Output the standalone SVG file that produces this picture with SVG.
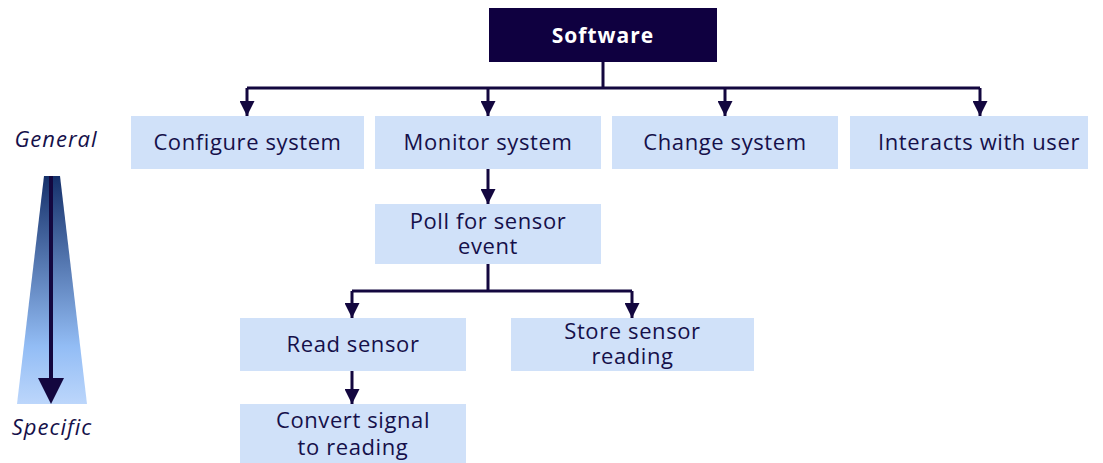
<svg xmlns="http://www.w3.org/2000/svg" width="1103" height="463" viewBox="0 0 1103 463">
<style>
.box{fill:#d0e1f9}
.t{font-family:"Open Sans","Liberation Sans",sans-serif;font-size:22px;letter-spacing:0.6px;fill:#15104a;text-anchor:middle}
.lbl{font-family:"Open Sans","Liberation Sans",sans-serif;font-size:22px;letter-spacing:1px;font-style:italic;fill:#15104a;text-anchor:middle}
.c{stroke:#13073f;stroke-width:3;fill:none}
</style>
<defs>
<marker id="ah" viewBox="0 0 10 10" refX="10" refY="5" markerWidth="5" markerHeight="5" markerUnits="strokeWidth" orient="auto">
<path d="M0,0 L10,5 L0,10 Z" fill="#13073f"/>
</marker>
<linearGradient id="g" x1="0" y1="0" x2="0" y2="1">
<stop offset="0" stop-color="#15306a"/>
<stop offset="0.75" stop-color="#93bdf5"/>
<stop offset="1" stop-color="#bcd6fb"/>
</linearGradient>
</defs>
<g id="scale">
<text class="lbl" x="56" y="147">General</text>
<polygon points="44,176 60,176 87,404 17,404" fill="url(#g)"/>
<line x1="51" y1="176" x2="51" y2="380" stroke="#13073f" stroke-width="4"/>
<polygon points="38,378 64,378 51,404" fill="#13073f"/>
<text class="lbl" x="52" y="435">Specific</text>
</g>
<g id="connectors">
<path class="c" d="M603,62 V88"/>
<path class="c" d="M247,88 H980"/>
<path class="c" d="M247,88 V116" marker-end="url(#ah)"/>
<path class="c" d="M488,88 V116" marker-end="url(#ah)"/>
<path class="c" d="M725,88 V116" marker-end="url(#ah)"/>
<path class="c" d="M980,88 V116" marker-end="url(#ah)"/>
<path class="c" d="M488,169 V204" marker-end="url(#ah)"/>
<path class="c" d="M488,264 V291"/>
<path class="c" d="M352,291 H632"/>
<path class="c" d="M352,291 V318" marker-end="url(#ah)"/>
<path class="c" d="M632,291 V318" marker-end="url(#ah)"/>
<path class="c" d="M352,371 V404" marker-end="url(#ah)"/>
</g>
<g id="software">
<rect x="489" y="8" width="228" height="54" fill="#0f0040"/>
<text x="603" y="43" font-family="'Open Sans','Liberation Sans',sans-serif" font-size="21" letter-spacing="1" font-weight="bold" fill="#ffffff" text-anchor="middle">Software</text>
</g>
<g id="configure">
<rect class="box" x="131" y="116" width="233" height="53"/>
<text class="t" x="247.5" y="150">Configure system</text>
</g>
<g id="monitor">
<rect class="box" x="375" y="116" width="226" height="53"/>
<text class="t" x="488" y="150">Monitor system</text>
</g>
<g id="change">
<rect class="box" x="612" y="116" width="226" height="53"/>
<text class="t" x="725" y="150">Change system</text>
</g>
<g id="interacts">
<rect class="box" x="850" y="116" width="238" height="53"/>
<text class="t" x="979" y="150">Interacts with user</text>
</g>
<g id="poll">
<rect class="box" x="375" y="204" width="226" height="60"/>
<text class="t" x="488" y="229">Poll for sensor</text>
<text class="t" x="488" y="254">event</text>
</g>
<g id="read">
<rect class="box" x="240" y="318" width="226" height="53"/>
<text class="t" x="353" y="352">Read sensor</text>
</g>
<g id="store">
<rect class="box" x="511" y="318" width="243" height="53"/>
<text class="t" x="632.5" y="339">Store sensor</text>
<text class="t" x="632.5" y="364">reading</text>
</g>
<g id="convert">
<rect class="box" x="240" y="404" width="226" height="59"/>
<text class="t" x="353" y="428">Convert signal</text>
<text class="t" x="353" y="455">to reading</text>
</g>
</svg>
